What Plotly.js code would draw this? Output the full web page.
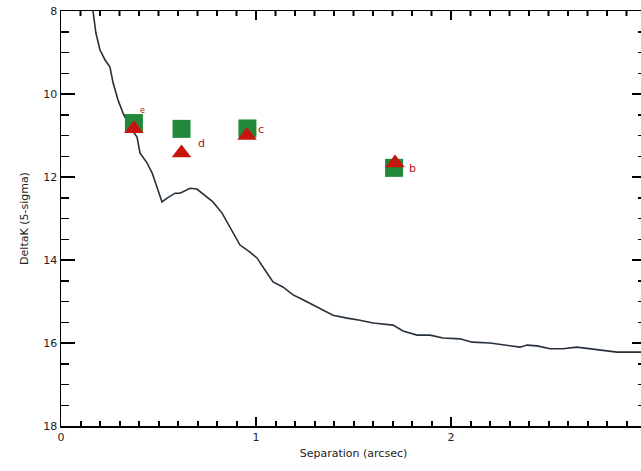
<!DOCTYPE html>
<html>
<head>
<meta charset="utf-8">
<script src="https://cdn.plot.ly/plotly-3.0.1.min.js"></script>
<style>
  html, body { margin: 0; padding: 0; overflow: hidden; background: #ffffff; }
  #chart { width: 660px; height: 471px; }
</style>
</head>
<body>
<div id="chart"></div>
<script>
// 5-sigma contrast curve: separation (arcsec) vs DeltaK
const curveSep = [0.155, 0.164, 0.179, 0.200, 0.226, 0.251, 0.267, 0.292, 0.318, 0.354, 0.390, 0.405, 0.441,
  0.467, 0.492, 0.518, 0.544, 0.585, 0.610, 0.662, 0.697, 0.728, 0.779, 0.826, 0.867, 0.918, 0.969,
  1.005, 1.046, 1.087, 1.138, 1.190, 1.226, 1.292, 1.344, 1.395, 1.467, 1.533, 1.600, 1.703, 1.754,
  1.826, 1.892, 1.959, 2.046, 2.108, 2.200, 2.267, 2.354, 2.390, 2.441, 2.508, 2.574, 2.646, 2.713,
  2.779, 2.851, 2.969, 3.000];
const curveDK = [7.75, 8.00, 8.53, 8.94, 9.18, 9.35, 9.73, 10.14, 10.46, 10.80, 11.04, 11.42, 11.66,
  11.90, 12.24, 12.60, 12.51, 12.39, 12.39, 12.27, 12.29, 12.41, 12.60, 12.87, 13.23, 13.64, 13.81,
  13.95, 14.24, 14.53, 14.65, 14.84, 14.92, 15.08, 15.20, 15.33, 15.40, 15.45, 15.52, 15.57, 15.71,
  15.81, 15.81, 15.88, 15.90, 15.98, 16.00, 16.05, 16.10, 16.05, 16.07, 16.14, 16.14, 16.10, 16.14,
  16.19, 16.22, 16.22, 16.22];

// Companion candidates
const compNames = ['e', 'd', 'c', 'b'];
const squareSep = [0.374, 0.618, 0.956, 1.708];
const squareDK  = [10.70, 10.84, 10.83, 11.78];
const triSep    = [0.374, 0.618, 0.954, 1.713];
const triDK     = [10.84, 11.42, 11.00, 11.66];

// label offsets in pixels, relative to the triangle markers
const labelDx = [9, 20, 14, 17];
const labelDy = [18, 9, 6, -6];
const labelSize = [8, 11, 11, 11];

const traces = [
  {
    x: curveSep, y: curveDK, type: 'scatter', mode: 'lines',
    line: { color: '#26303a', width: 1.6 }, hoverinfo: 'skip', showlegend: false
  },
  {
    x: squareSep, y: squareDK, type: 'scatter', mode: 'markers',
    marker: { symbol: 'square', size: 18, color: '#22893a', line: { width: 0 } },
    showlegend: false
  },
  {
    x: triSep, y: triDK, type: 'scatter', mode: 'markers',
    marker: { symbol: 'triangle-up', size: 17, color: '#c8160f', line: { width: 0 } },
    showlegend: false
  }
];

const annotations = compNames.map((t, i) => ({
  x: triSep[i], y: triDK[i], xref: 'x', yref: 'y', text: t, showarrow: false,
  xshift: labelDx[i], yshift: labelDy[i],
  font: { family: 'DejaVu Sans, sans-serif', size: labelSize[i], color: '#b3120e' }
}));

// tick marks hanging from the top frame: 9 px at whole arcsec, 5 px every 0.1 arcsec
const topTicks = [];
for (let k = 1; k < 30; k++) {
  const len = (k % 10 === 0) ? 9 : 5;
  topTicks.push({
    type: 'line', xref: 'x', yref: 'paper', ysizemode: 'pixel', yanchor: 1,
    x0: k / 10, x1: k / 10, y0: 0, y1: -len,
    line: { color: '#000000', width: 2 }, layer: 'above'
  });
}

const axisFont = { family: 'DejaVu Sans, sans-serif', size: 11, color: '#222222' };

const layout = {
  width: 660, height: 471,
  margin: { l: 61, r: 14, t: 11, b: 45 },
  paper_bgcolor: '#ffffff', plot_bgcolor: '#ffffff',
  showlegend: false,
  annotations: annotations,
  shapes: topTicks,
  xaxis: {
    range: [0, 3], dtick: 1, tick0: 0,
    ticks: 'inside', ticklen: 9, tickwidth: 2, tickcolor: '#000000',
    minor: { dtick: 0.1, ticks: 'inside', ticklen: 5, tickwidth: 2, tickcolor: '#000000', showgrid: false },
    showline: true, linecolor: '#000000', linewidth: 1.5, mirror: true,
    showgrid: false, zeroline: false, tickfont: axisFont,
    title: { text: 'Separation (arcsec)', font: axisFont, standoff: 6 }
  },
  yaxis: {
    range: [18, 8], tickmode: 'linear', tick0: 8, dtick: 2,
    ticks: 'inside', ticklen: 14, tickwidth: 1.5, tickcolor: '#000000',
    minor: { tickmode: 'linear', tick0: 8, dtick: 0.5, ticks: 'inside', ticklen: 8, tickwidth: 1.5, tickcolor: '#000000' },
    showline: true, linecolor: '#000000', linewidth: 1.5, mirror: 'allticks',
    showgrid: false, zeroline: false, tickfont: axisFont,
    title: { text: 'DeltaK (5-sigma)', font: axisFont, standoff: 12 }
  }
};

Plotly.newPlot('chart', traces, layout, { displayModeBar: false, staticPlot: true });
</script>
</body>
</html>
